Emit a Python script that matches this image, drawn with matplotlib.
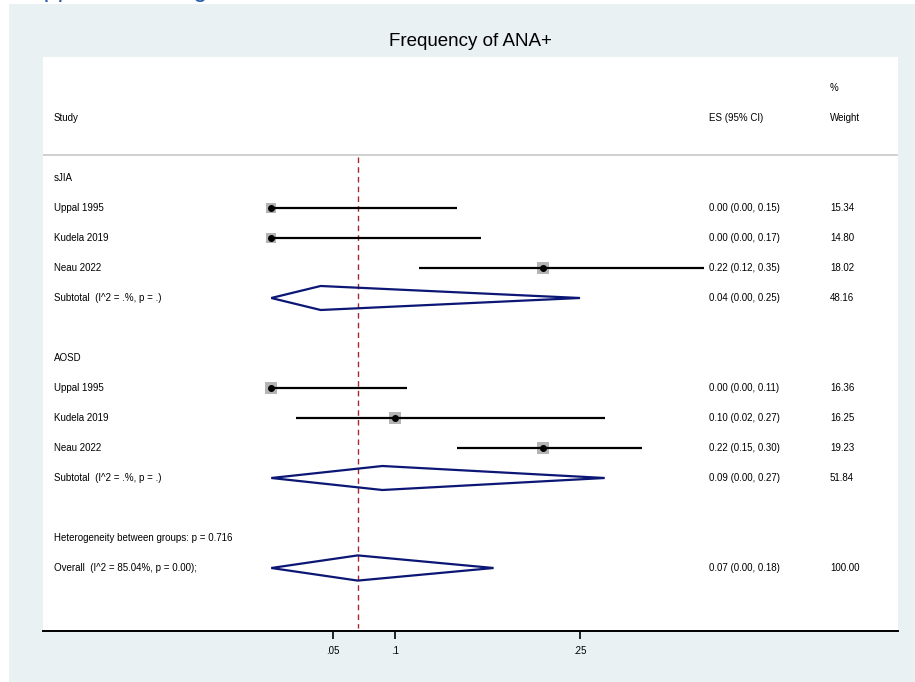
import matplotlib
matplotlib.use("Agg")
import matplotlib.pyplot as plt
from matplotlib.patches import Rectangle, Polygon
import matplotlib.transforms as mtransforms

plt.rcParams['font.family'] = ['Liberation Sans', 'DejaVu Sans']

# study-level estimates (proportion ANA+), 95% CI and weights
studies = ["Uppal 1995", "Kudela 2019", "Neau 2022"]
groups = ["sJIA", "AOSD"]

sjia_es = [0.00, 0.00, 0.22]
sjia_lo = [0.00, 0.00, 0.12]
sjia_hi = [0.15, 0.17, 0.35]
sjia_w = [15.34, 14.80, 18.02]
sjia_sub = [0.04, 0.00, 0.25]
sjia_sub_w = 48.16

aosd_es = [0.00, 0.10, 0.22]
aosd_lo = [0.00, 0.02, 0.15]
aosd_hi = [0.11, 0.27, 0.30]
aosd_w = [16.36, 16.25, 19.23]
aosd_sub = [0.09, 0.00, 0.27]
aosd_sub_w = 51.84

overall = [0.07, 0.00, 0.18]
overall_w = 100.00

subtotal_label = "Subtotal  (I^2 = .%, p = .)"
overall_label = "Overall  (I^2 = 85.04%, p = 0.00);"
het_label = "Heterogeneity between groups: p = 0.716"

xticks = [0.05, 0.1, 0.25]
xtick_labels = [".05", ".1", ".25"]

W, H = 915, 682
bg = "#e9f1f3"
navy = "#0c1675"
fs = 7

fig = plt.figure(figsize=(W / 100, H / 100), dpi=100, facecolor="white")
fig.patches.append(Rectangle((9 / W, 0), 1, (H - 4) / H, transform=fig.transFigure,
                             facecolor=bg, edgecolor="none", zorder=-10))
fig.text(13 / W, 1 + 3 / H, "Supplemental Figure 1", color="#2a5caa", fontsize=18,
         va="baseline", ha="left")

ax = fig.add_axes([43 / W, (H - 631) / H, (898 - 43) / W, (631 - 57) / H])
ax.set_facecolor("white")
ax.set_xlim((43 - 271.25) / 1235, (898 - 271.25) / 1235)
ax.set_ylim(15.1, -4.033)
for s in ["top", "left", "right"]:
    ax.spines[s].set_visible(False)
ax.spines["bottom"].set_linewidth(1.4)
ax.set_yticks([])
ax.set_xticks(xticks)
ax.set_xticklabels(xtick_labels, fontsize=fs)
ax.tick_params(axis="x", direction="out", length=6, width=1.2, pad=5)

tr = mtransforms.blended_transform_factory(ax.transAxes, ax.transData)
x_lab, x_es, x_w = 0.0129, 0.779, 0.9205


def row_text(y, label, est=None, weight=None):
    ax.text(x_lab, y, label, transform=tr, fontsize=fs, va="center", ha="left")
    if est is not None:
        ax.text(x_es, y, "%.2f (%.2f, %.2f)" % tuple(est), transform=tr,
                fontsize=fs, va="center", ha="left")
        ax.text(x_w, y, "%.2f" % weight, transform=tr, fontsize=fs,
                va="center", ha="left")


def diamond(y, est, half=0.4):
    es, lo, hi = est
    ax.add_patch(Polygon([(lo, y), (es, y - half), (hi, y), (es, y + half)],
                         closed=True, fill=False, edgecolor=navy, lw=1.6, zorder=4))


# header
ax.text(x_w, -3, "%", transform=tr, fontsize=fs, va="center", ha="left")
ax.text(x_lab, -2, "Study", transform=tr, fontsize=fs, va="center", ha="left")
ax.text(x_es, -2, "ES (95% CI)", transform=tr, fontsize=fs, va="center", ha="left")
ax.text(x_w, -2, "Weight", transform=tr, fontsize=fs, va="center", ha="left")
ax.axhline(-0.77, color="#c8c8c8", lw=1.2)

data = [(sjia_es, sjia_lo, sjia_hi, sjia_w, sjia_sub, sjia_sub_w),
        (aosd_es, aosd_lo, aosd_hi, aosd_w, aosd_sub, aosd_sub_w)]

row = 0
for g, (es, lo, hi, w, sub, sub_w) in zip(groups, data):
    row_text(row, g)
    for i, name in enumerate(studies):
        y = row + 1 + i
        ax.plot([lo[i], hi[i]], [y, y], color="black", lw=1.6, zorder=3,
                solid_capstyle="butt")
        ax.plot(es[i], y, marker="s", color="#b4b4b4", markersize=2.0 * w[i] ** 0.5,
                markeredgewidth=0, zorder=2)
        ax.plot(es[i], y, marker="o", color="black", markersize=4, zorder=4)
        row_text(y, name, (es[i], lo[i], hi[i]), w[i])
    y = row + 4
    diamond(y, sub)
    row_text(y, subtotal_label, sub, sub_w)
    row += 6

row_text(12, het_label)
diamond(13, overall, half=0.42)
row_text(13, overall_label, overall, overall_w)

# overall estimate reference line
ax.plot([overall[0], overall[0]], [-0.7, 15.0], color="#a8272f", lw=1.0,
        dashes=(4, 3), zorder=1)

fig.text((43 + 898) / 2 / W, 1 - 41 / H, "Frequency of ANA+", fontsize=13.5,
         ha="center", va="center")

fig.savefig("out.png", dpi=100, facecolor="white")
